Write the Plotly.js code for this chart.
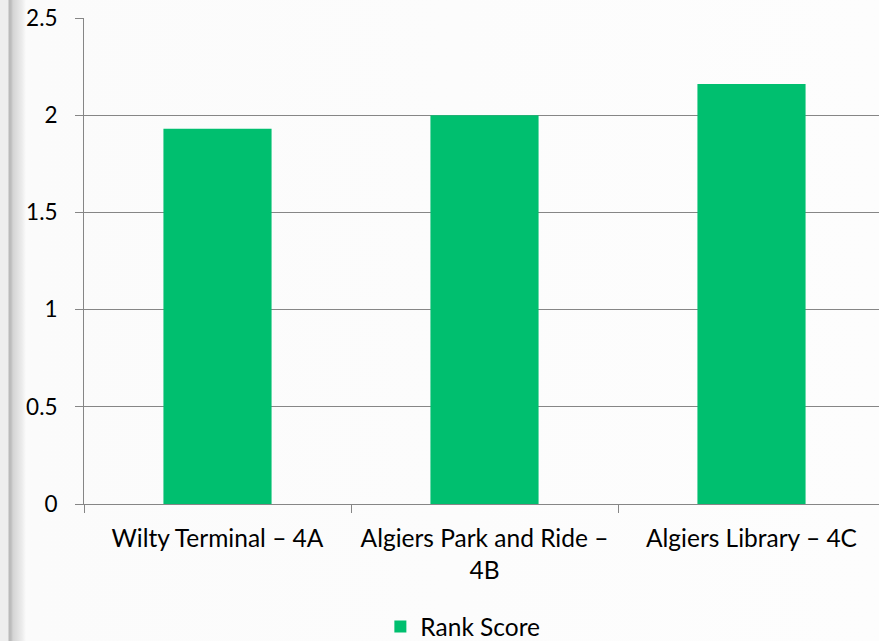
<!DOCTYPE html>
<html>
<head>
<meta charset="utf-8">
<script src="https://cdn.plot.ly/plotly-3.0.1.min.js"></script>
<style>
html,body{margin:0;padding:0;overflow:hidden;width:879px;height:641px;
background:linear-gradient(to right,#eeeeee 0px,#eeeeee 8px,#b9b9b9 9px,#bdbdbd 11px,#d4d4d4 13px,#ececec 22px,#fbfbfb 26px,#fdfdfd 100%);}
#chart{width:890px;height:641px;}
</style>
</head>
<body>
<div id="chart"></div>
<script>
const categories = ["Wilty Terminal – 4A", "Algiers Park and Ride –<br>4B", "Algiers Library – 4C"];
const rankScore = [1.93, 2.0, 2.16];
const yTicks = [0, 0.5, 1, 1.5, 2, 2.5];
const yTickLabels = ["0", "0.5", "1", "1.5", "2", "2.5"];

const font = "Lato, Calibri, 'Open Sans', sans-serif";
const trace = {
  type: "bar",
  x: categories,
  y: rankScore,
  name: "Rank Score",
  marker: {color: "#00bf6f"},
  showlegend: true,
  hoverinfo: "x+y"
};
const layout = {
  width: 890, height: 641,
  margin: {l: 84, r: 5, t: 18, b: 137, autoexpand: false},
  paper_bgcolor: "rgba(0,0,0,0)",
  plot_bgcolor: "rgba(0,0,0,0)",
  bargap: 0.595,
  font: {family: font, size: 24, color: "#000"},
  xaxis: {
    type: "category",
    showgrid: false,
    showline: true, linecolor: "#868686", linewidth: 1,
    ticks: "outside", tickson: "boundaries", ticklen: 8, tickcolor: "#868686",
    tickfont: {family: font, size: 24.5, color: "#000"},
    ticklabelstandoff: 13,
    automargin: false,
    zeroline: false
  },
  yaxis: {
    range: [0, 2.5],
    tickvals: yTicks, ticktext: yTickLabels,
    showgrid: true, gridcolor: "#868686", gridwidth: 1,
    showline: true, linecolor: "#868686", linewidth: 1,
    ticks: "outside", ticklen: 8, tickcolor: "#868686",
    tickfont: {family: font, size: 22.5, color: "#000"},
    ticklabelstandoff: 13,
    automargin: false,
    zeroline: false
  },
  showlegend: true,
  legend: {
    orientation: "h",
    x: 0.37, xanchor: "left",
    y: -0.252, yanchor: "middle",
    font: {family: font, size: 24.5, color: "#000"},
    bgcolor: "rgba(0,0,0,0)"
  }
};
Plotly.newPlot("chart", [trace], layout, {displayModeBar: false, staticPlot: true});
</script>
</body>
</html>
